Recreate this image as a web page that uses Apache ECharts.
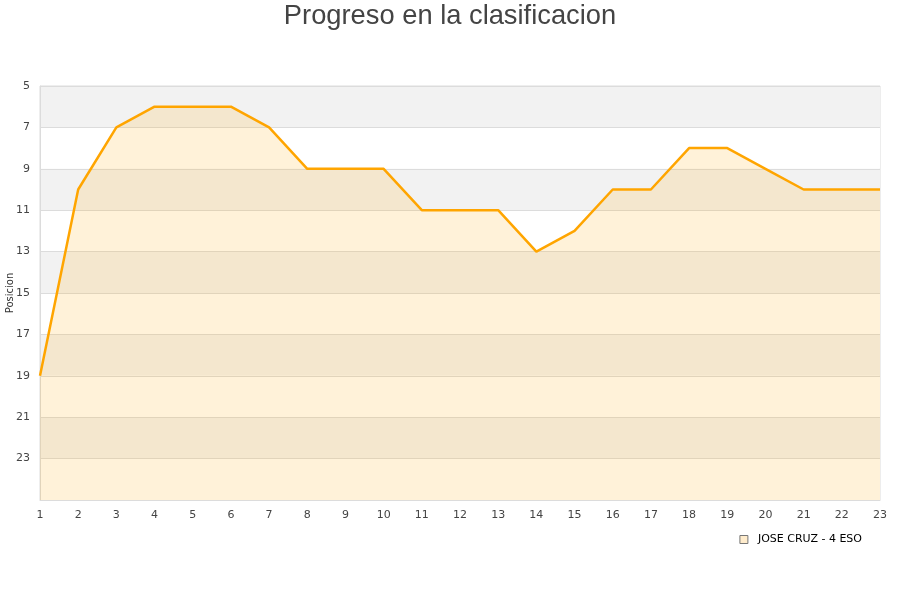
<!DOCTYPE html>
<html>
<head>
<meta charset="utf-8">
<script src="https://cdn.jsdelivr.net/npm/echarts@6/dist/echarts.min.js"></script>
<style>
  html, body { margin: 0; padding: 0; background: #fff; }
  #chart { width: 900px; height: 600px; }
</style>
</head>
<body>
<div id="chart"></div>
<script>
// jornadas y posiciones
const jornadas = ['1','2','3','4','5','6','7','8','9','10','11','12','13','14','15','16','17','18','19','20','21','22','23'];
const posiciones = [19, 10, 7, 6, 6, 6, 7, 9, 9, 9, 11, 11, 11, 13, 12, 10, 10, 8, 8, 9, 10, 10, 10];
const serieNombre = 'JOSE CRUZ - 4 ESO';

let myChart = echarts.init(document.getElementById('chart'));

let option = {
  backgroundColor: '#fff',
  animation: false,
  title: {
    text: 'Progreso en la clasificacion',
    left: 'center',
    top: -2,
    textStyle: {
      fontFamily: 'Liberation Sans',
      fontSize: 27.3,
      fontWeight: 'normal',
      color: '#444'
    }
  },
  legend: {
    right: 33,
    top: 529,
    itemWidth: 8,
    itemHeight: 8,
    icon: 'rect',
    textStyle: { fontFamily: 'DejaVu Sans', fontSize: 11, color: '#000', padding: [0, 0, 0, 5] },
    itemStyle: { color: '#ffeccc', borderColor: '#777', borderWidth: 1 },
    data: [serieNombre]
  },
  grid: {
    left: 40,
    right: 20,
    top: 86,
    bottom: 100,
    containLabel: false,
    outerBoundsMode: 'none',
    show: true,
    borderColor: '#dcdcdc',
    borderWidth: 1
  },
  xAxis: {
    type: 'category',
    boundaryGap: false,
    data: jornadas,
    axisLine: { lineStyle: { color: '#dcdcdc' } },
    axisTick: { show: false },
    axisLabel: { fontFamily: 'DejaVu Sans', fontSize: 11, color: '#444', margin: 10 }
  },
  yAxis: {
    type: 'value',
    inverse: true,
    min: 5,
    max: 25,
    interval: 2,
    name: 'Posicion',
    nameLocation: 'middle',
    nameRotate: 90,
    nameGap: 25,
    nameMoveOverlap: false,
    nameTextStyle: { fontFamily: 'DejaVu Sans', fontSize: 10, color: '#333' },
    axisLine: { show: true, lineStyle: { color: '#dcdcdc' } },
    axisTick: { show: false },
    axisLabel: {
      fontFamily: 'DejaVu Sans', fontSize: 11, color: '#444', margin: 10,
      formatter: v => (v === 25 ? '' : String(v))
    },
    splitLine: { show: true, lineStyle: { color: '#dcdcdc' } },
    splitArea: { show: true, areaStyle: { color: ['#f2f2f2', '#ffffff'] } }
  },
  series: [{
    name: serieNombre,
    type: 'line',
    data: posiciones,
    symbol: 'none',
    lineStyle: { color: '#ffa500', width: 2.5 },
    itemStyle: { color: '#ffa500' },
    areaStyle: { origin: 'end', color: 'rgba(255,165,0,0.21)' }
  }]
};

myChart.setOption(option, true);
</script>
</body>
</html>
